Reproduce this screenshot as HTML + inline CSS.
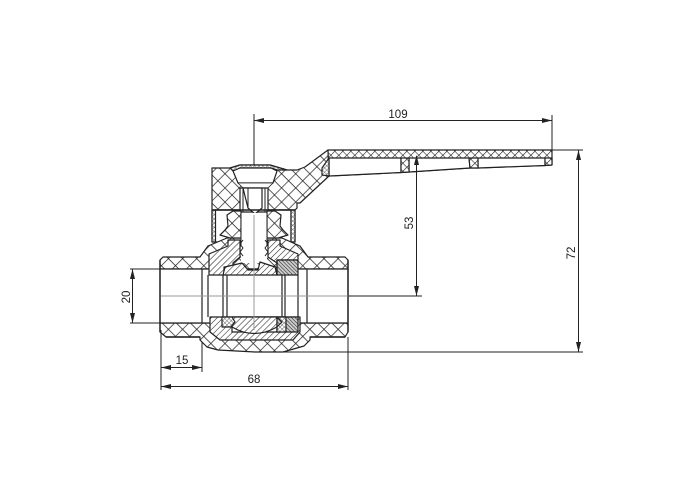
<!DOCTYPE html>
<html><head><meta charset="utf-8"><style>
html,body{margin:0;padding:0;background:#fff}
svg{display:block;filter:blur(.35px)}
text{font-family:"Liberation Sans",sans-serif;font-size:11.5px;fill:#222}
</style></head><body>
<svg width="700" height="500" viewBox="0 0 700 500" xmlns="http://www.w3.org/2000/svg">
<defs>
<pattern id="x1" width="10" height="10" patternUnits="userSpaceOnUse" patternTransform="rotate(45 254 263)"><rect width="10" height="10" fill="#fff"/><path d="M0 0H10M0 0V10" stroke="#222" stroke-width="1.4"/></pattern>
<pattern id="x2" width="5.66" height="5.66" patternUnits="userSpaceOnUse" patternTransform="rotate(45 330 150)"><rect width="6" height="6" fill="#fff"/><path d="M0 0H5.66M0 0V5.66" stroke="#222" stroke-width="1.2"/></pattern>
<pattern id="x3" width="3" height="3" patternUnits="userSpaceOnUse" patternTransform="rotate(45 0 0)"><rect width="3" height="3" fill="#fff"/><path d="M0 0H3M0 0V3" stroke="#444" stroke-width=".8"/></pattern>
<pattern id="h" width="4.2" height="4.2" patternUnits="userSpaceOnUse" patternTransform="rotate(-45 0 0)"><rect width="5" height="5" fill="#fff"/><path d="M0 0H5" stroke="#222" stroke-width="1.1"/></pattern>
<pattern id="hd" width="2.6" height="2.6" patternUnits="userSpaceOnUse" patternTransform="rotate(45 0 0)"><rect width="3" height="3" fill="#ccc"/><path d="M0 0H3" stroke="#222" stroke-width="1.1"/></pattern>
</defs>
<g stroke="#222" stroke-width="1.2" stroke-linejoin="round">
<!-- hub -->
<path d="M212 168H230L240 165H270L287 170H297L305 167 328 150 329 176 300 203H297V208L295 210V242H291V210H215V242H212Z" fill="url(#x1)"/>
<path d="M215 210H291V242H215Z" fill="#fff"/>
<path d="M212 210V242H215.500V210ZM291 210V242H295V210Z" fill="url(#x3)"/>
<!-- cap -->
<path d="M230 168 240 165H270L287 170H277L271 168H240L233 171Z" fill="url(#x3)"/>
<path d="M233 171 240 168H271L277 171 273 183H238Z" fill="#fff"/>
<path d="M238 183H273L268 188H243Z" fill="#fff" stroke-width=".8"/>
<path d="M240 188H268V212H240Z" fill="#fff"/>
<path d="M243 188H262V208L255 214 248 208Z" fill="#fff"/>
<path d="M240 188V212M268 188V212M243 188V212M265 188V212M248 188V208M262 188V208" fill="none" stroke-width="1"/>
<path d="M212 210H295" fill="none" stroke-width="1.4"/>
<!-- handle -->
<path d="M328 150H552V165L545 165.500 478 168 470 168 409 172 401 172.500 329 176Z" fill="url(#x2)"/>
<path d="M329 158H401V172.500L329 176ZM409 158H469L470 168 409 172ZM478 158H545V165.500L478 168Z" fill="#fff"/>
<path d="M329 158 322 168V175L329 176Z" fill="url(#x3)"/>
<path d="M401 158H409V172L401 172.500ZM469 158H478V168H470ZM545 158H552V165L545 165.500Z" fill="url(#x2)"/>
<!-- pipe ends + body crosshatch -->
<path d="M163 257H200L208 246 227 238 282 238 300 246 308 257H345L348 260V269H160V260Z" fill="url(#x1)"/>
<path d="M160 323H348V332L345 337H310V340L304 346 283 352 255 352 218 350 207 347 200 340V337H166L160 332Z" fill="url(#x1)"/>
<path d="M166 337H200M310 337H345" fill="none" stroke-width="1.6"/>
<!-- bore -->
<path d="M160 269H348V323H160Z" fill="#fff"/>
<path d="M202 269V323M208 275V317M223 275V317M227 275V317M282 275V317M285 275V317M298 275V317M307 269V323" fill="none"/>
<!-- neck nut -->
<path d="M227 215 233 211H241V238H230L220 235 225 230 228 226Z" fill="url(#x1)"/>
<path d="M281 215 275 211H267V238H278L288 235 283 230 280 226Z" fill="url(#x1)"/>
<rect x="241" y="213" width="26" height="50" fill="#fff" stroke="none"/>
<path d="M241 211V245M243 240 240 244 243 248 240 252 243 256M267 211V245M265 240 268 244 265 248 268 252 265 256" fill="none" stroke-width="1"/>
<!-- body upper hatch -->
<path d="M209 275V254L228 246 228 240H240V257L233 263V267H224V275Z" fill="url(#h)"/>
<path d="M268 257V240H280V246L298 254V260H277V263Z" fill="url(#h)"/>
<path d="M223 275 225 267 242 263 248 270H258L260 262 275 267 277 275Z" fill="url(#h)"/>
<path d="M277 260H298V275H277Z" fill="url(#hd)"/>
<path d="M277 260V275" fill="none"/>
<!-- body lower hatch -->
<path d="M210 317V332L220 340H293L300 332V317Z" fill="url(#h)"/>
<path d="M232 317 232 332H277V317Z" fill="#fff"/>
<path d="M232 317H277V327Q254 340 232 327Z" fill="url(#h)"/>
<path d="M222 317H232L235 322 231 327H222Z" fill="url(#x3)"/>
<path d="M277 317H298V332H277Z" fill="url(#hd)"/>
<path d="M277 317 282 322 277 327 277 332H286V317Z" fill="url(#x3)"/>
<!-- outer pipe lines -->
<path d="M160 260V332M348 260V332" fill="none" stroke-width="1.4"/>
</g>
<!-- centre lines -->
<g stroke="#999" stroke-width="1" fill="none">
<path d="M161 296H348M254 215V330"/>
</g>
<!-- dimensions -->
<g stroke="#222" stroke-width="1" fill="none">
<path d="M254 114V165M552 115V150M254 120.500H552"/>
<path d="M552 150H583M283 352H583M578.500 150V352"/>
<path d="M348 296H422M416.500 156V296"/>
<path d="M130 269H161M130 323H161M132.500 269V323"/>
<path d="M161 330V390M202 342V372M348 337V390M161 367.500H202M161 386.500H348"/>
</g>
<g fill="#222">
<path d="M254 120.500 264 118V123ZM552 120.500 542 118V123Z"/>
<path d="M578.500 150 576 160H581ZM578.500 352 576 342H581Z"/>
<path d="M416.500 155 414 165H419ZM416.500 296 414 286H419Z"/>
<path d="M132.500 269 130 279H135ZM132.500 323 130 313H135Z"/>
<path d="M161 367.500 171 365V370ZM202 367.500 192 365V370Z"/>
<path d="M161 386.500 171 384V389ZM348 386.500 338 384V389Z"/>
</g>
<text x="398" y="118" text-anchor="middle">109</text>
<text x="182" y="364" text-anchor="middle">15</text>
<text x="254" y="383" text-anchor="middle">68</text>
<text transform="translate(130 297) rotate(-90)" text-anchor="middle">20</text>
<text transform="translate(413 223) rotate(-90)" text-anchor="middle">53</text>
<text transform="translate(575 253) rotate(-90)" text-anchor="middle">72</text>
</svg>
</body></html>
